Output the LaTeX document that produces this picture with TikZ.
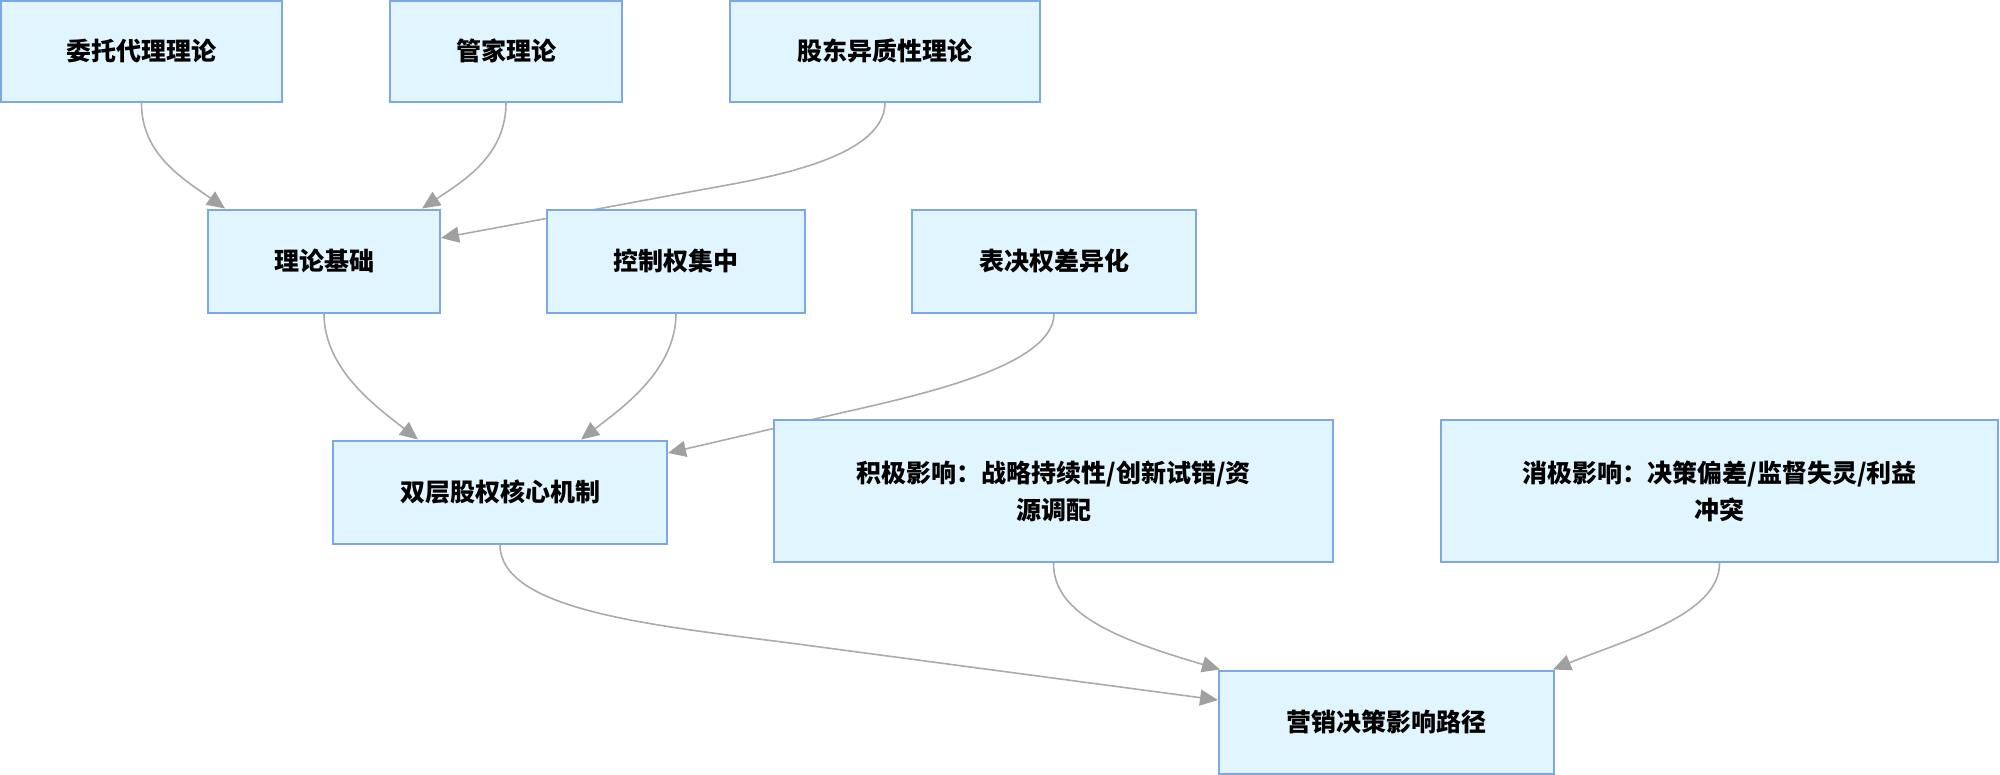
\documentclass[tikz,border=0pt]{standalone}
\usepackage{fontspec}
\setmainfont{Noto Sans CJK SC}
\usetikzlibrary{arrows.meta}
\definecolor{boxfill}{HTML}{E1F5FE}
\definecolor{boxdraw}{HTML}{7DA7E6}
\definecolor{edgecol}{HTML}{ABABAB}
\definecolor{tipcol}{HTML}{A0A0A0}
\pgfdeclarelayer{bg}
\pgfsetlayers{bg,main}
\begin{document}
\begin{tikzpicture}[x=1pt,y=-1pt,
  box/.style={draw=boxdraw,fill=boxfill,line width=2pt,rectangle,inner sep=0pt,
    align=center,font=\fontsize{25}{37}\selectfont\bfseries,text=black},
  link/.style={draw=edgecol,line width=1.6pt,
    -{Triangle[length=18pt,width=16pt,fill=tipcol,color=tipcol]}}]
\useasboundingbox (0,0) rectangle (2000,774);
\node[box,minimum width=281pt,minimum height=101pt] (n1) at (141.5,51) {委托代理理论};
\node[box,minimum width=232pt,minimum height=101pt] (n2) at (506,51) {管家理论};
\node[box,minimum width=310pt,minimum height=101pt] (n3) at (885,51) {股东异质性理论};
\node[box,minimum width=232pt,minimum height=103pt] (n4) at (324,261) {理论基础};
\node[box,minimum width=258pt,minimum height=103pt] (n5) at (676,261) {控制权集中};
\node[box,minimum width=284pt,minimum height=103pt] (n6) at (1054,261) {表决权差异化};
\node[box,minimum width=334pt,minimum height=103pt] (n7) at (500,492) {双层股权核心机制};
\node[box,minimum width=559pt,minimum height=142pt] (n8) at (1053.5,491) {积极影响：战略持续性/创新试错/资\\源调配};
\node[box,minimum width=557pt,minimum height=142pt] (n9) at (1719.5,491) {消极影响：决策偏差/监督失灵/利益\\冲突};
\node[box,minimum width=335pt,minimum height=103pt] (n10) at (1386.5,722) {营销决策影响路径};
\begin{pgfonlayer}{bg}
\draw[link] (n1.south) .. controls (141,155) and (185,180) .. ([xshift=-99pt]n4.north);
\draw[link] (n2.south) .. controls (506,155) and (465,180) .. ([xshift=98pt]n4.north);
\draw[link] (n3.south) .. controls (885,160) and (760,179) .. (700,190) -- ([yshift=23pt]n4.east);
\draw[link] (n4.south) .. controls (324,370) and (378,408) .. ([xshift=-82pt]n7.north);
\draw[link] (n5.south) .. controls (676,370) and (622,408) .. ([xshift=81pt]n7.north);
\draw[link] (n6.south) .. controls (1054,370) and (900,399) .. (819,418) -- ([yshift=39pt]n7.east);
\draw[link] (n7.south) .. controls (500,610) and (650,625) .. (790,643) -- ([yshift=22pt]n10.west);
\draw[link] (n8.south) .. controls (1053,615) and (1120,640) .. ([xshift=2pt]n10.north west);
\draw[link] (n9.south) .. controls (1720,615) and (1625,640) .. ([xshift=-2pt]n10.north east);
\end{pgfonlayer}
\end{tikzpicture}
\end{document}
